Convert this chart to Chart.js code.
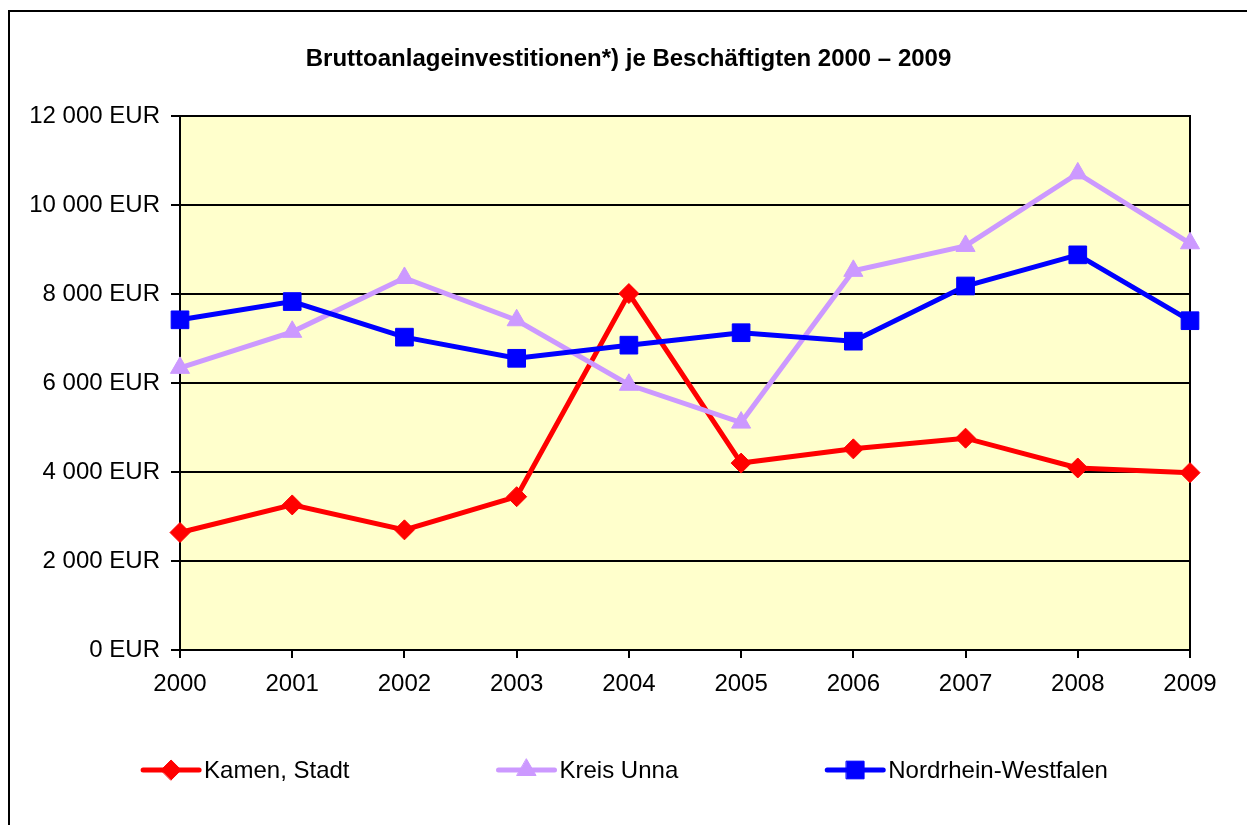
<!DOCTYPE html>
<html><head><meta charset="utf-8">
<script src="https://cdn.jsdelivr.net/npm/chart.js@4/dist/chart.umd.min.js"></script>
<style>html,body{margin:0;padding:0;background:#fff;overflow:hidden}#wrap{width:1247px;height:825px;position:relative}</style>
</head><body><div id="wrap"><canvas id="c" width="1247" height="825"></canvas></div>
<script>
const years = ['2000','2001','2002','2003','2004','2005','2006','2007','2008','2009'];
const kamen = [2640, 3260, 2700, 3445, 8010, 4200, 4520, 4760, 4090, 3985];
const kreisUnna = [6340, 7150, 8360, 7410, 5960, 5110, 8520, 9080, 10710, 9140];
const nrw = [7420, 7830, 7030, 6555, 6850, 7130, 6940, 8180, 8880, 7400];
const seriesNames = ['Kamen, Stadt', 'Kreis Unna', 'Nordrhein-Westfalen'];
const yTicks = [0, 2000, 4000, 6000, 8000, 10000, 12000];
const titleText = 'Bruttoanlageinvestitionen*) je Beschäftigten 2000 – 2009';

const FONT = '"Liberation Sans", Arial, sans-serif';
function fmt(v){ return String(v).replace(/\B(?=(\d{3})+(?!\d))/g, ' ') + ' EUR'; }

function drawMarker(ctx, style, r, x, y, color){
  ctx.save(); ctx.fillStyle = color; ctx.strokeStyle = color; ctx.lineWidth = 1;
  ctx.beginPath();
  if (style === 'rect'){ const s = Math.SQRT1_2*r; ctx.rect(x-s, y-s, 2*s, 2*s); }
  else if (style === 'rectRot'){ ctx.moveTo(x-r,y); ctx.lineTo(x,y-r); ctx.lineTo(x+r,y); ctx.lineTo(x,y+r); ctx.closePath(); }
  else if (style === 'triangle'){ let a=0; ctx.moveTo(x+Math.sin(a)*r, y-Math.cos(a)*r); a+=2*Math.PI/3; ctx.lineTo(x+Math.sin(a)*r, y-Math.cos(a)*r); a+=2*Math.PI/3; ctx.lineTo(x+Math.sin(a)*r, y-Math.cos(a)*r); ctx.closePath(); }
  ctx.fill(); ctx.stroke(); ctx.restore();
}

const framePlugin = {
  id: 'frame',
  beforeDraw(chart){
    const {ctx, chartArea: a} = chart;
    ctx.save();
    ctx.fillStyle = '#fff'; ctx.fillRect(0,0,chart.width,chart.height);
    ctx.fillStyle = '#FFFFCC'; ctx.fillRect(a.left, a.top, a.right-a.left, a.bottom-a.top);
    ctx.strokeStyle = '#000'; ctx.lineWidth = 2;
    ctx.beginPath(); ctx.moveTo(9, chart.height+5); ctx.lineTo(9, 11); ctx.lineTo(chart.width+5, 11); ctx.stroke();
    ctx.fillStyle = '#000'; ctx.font = 'bold 24px ' + FONT;
    ctx.textAlign = 'center'; ctx.textBaseline = 'middle';
    ctx.fillText(titleText, 628.5, 59);
    ctx.restore();
  },
  beforeDatasetsDraw(chart){
    const {ctx, chartArea: a} = chart;
    ctx.save(); ctx.strokeStyle = '#000'; ctx.lineWidth = 2;
    ctx.strokeRect(a.left, a.top, a.right-a.left, a.bottom-a.top);
    ctx.restore();
  },
  afterDraw(chart){
    const ctx = chart.ctx;
    ctx.save();
    ctx.font = '24px ' + FONT;
    const ds = chart.data.datasets;
    const symW = 60, gapT = 3, gap = 147;
    const widths = ds.map(d => ctx.measureText(d.label).width);
    const total = widths.reduce((s,w)=>s+symW+gapT+w,0) + gap*(ds.length-1);
    let x = chart.width/2 - total/2 + 1;
    const y = 770;
    ds.forEach((d,i)=>{
      ctx.strokeStyle = d.borderColor; ctx.lineWidth = 5; ctx.lineCap = 'round';
      ctx.beginPath(); ctx.moveTo(x+2, y); ctx.lineTo(x+symW-2, y); ctx.stroke();
      drawMarker(ctx, d.pointStyle, d.pointRadius, x+symW/2, y, d.pointBackgroundColor);
      ctx.fillStyle = '#000'; ctx.textBaseline = 'middle'; ctx.textAlign = 'left';
      ctx.fillText(d.label, x+symW+gapT, y+1);
      x += symW + gapT + widths[i] + gap;
    });
    ctx.restore();
  }
};

const mk = (label, data, color, style, r, order) => ({
  label, data, borderColor: color, backgroundColor: color,
  pointBackgroundColor: color, pointBorderColor: color, pointBorderWidth: 1,
  pointStyle: style, pointRadius: r, pointHoverRadius: r,
  borderWidth: 5, tension: 0, clip: false, order
});

new Chart(document.getElementById('c'), {
  type: 'line',
  data: {
    labels: years,
    datasets: [
      mk(seriesNames[0], kamen, '#FF0000', 'rectRot', 10, 2),
      mk(seriesNames[1], kreisUnna, '#CC99FF', 'triangle', 11, 1),
      mk(seriesNames[2], nrw, '#0000FF', 'rect', 12.5, 0)
    ]
  },
  options: {
    responsive: false, devicePixelRatio: 1, animation: false,
    layout: { padding: { top: 116, left: 10, right: 57, bottom: 125 } },
    plugins: {
      legend: { display: false }, tooltip: { enabled: false }, title: { display: false }
    },
    scales: {
      x: {
        offset: false,
        grid: { display: true, drawOnChartArea: false, drawTicks: true, tickLength: 8, color: '#000', lineWidth: 2 },
        border: { display: true, color: '#000', width: 2 },
        ticks: { color: '#000', font: { family: FONT, size: 24 }, padding: 12, maxRotation: 0, autoSkip: false },
        afterFit(s){ s.height = 50; }
      },
      y: {
        min: 0, max: 12000,
        afterBuildTicks(s){ s.ticks = yTicks.map(v => ({ value: v })); },
        grid: { color: '#000', lineWidth: 2, tickLength: 9 },
        border: { display: true, color: '#000', width: 2 },
        ticks: { color: '#000', font: { family: FONT, size: 24 }, padding: 11, callback: v => fmt(v) },
        afterFit(s){ s.width = 170; }
      }
    }
  },
  plugins: [framePlugin]
});
</script></body></html>
